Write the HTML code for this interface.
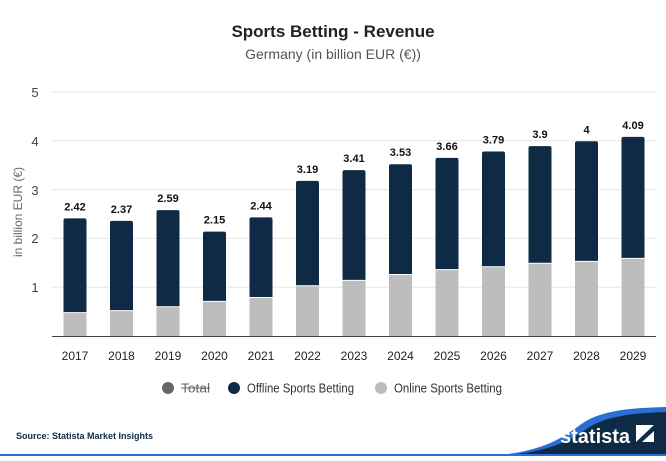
<!DOCTYPE html>
<html><head><meta charset="utf-8"><style>
body{margin:0;width:666px;height:456px;background:#fff;overflow:hidden;font-family:"Liberation Sans",Arial,sans-serif;}
</style></head><body>
<svg width="666" height="456" xmlns="http://www.w3.org/2000/svg" font-family="Liberation Sans, Arial, sans-serif">
<text x="333" y="37" text-anchor="middle" font-size="17" font-weight="bold" fill="#222">Sports Betting - Revenue</text>
<text x="333" y="59" text-anchor="middle" font-size="14" fill="#555">Germany (in billion EUR (€))</text>
<g stroke="#e6e6e6" stroke-width="1">
<line x1="52" x2="656" y1="92" y2="92"/><line x1="52" x2="656" y1="140.8" y2="140.8"/>
<line x1="52" x2="656" y1="189.6" y2="189.6"/><line x1="52" x2="656" y1="238.4" y2="238.4"/>
<line x1="52" x2="656" y1="287.2" y2="287.2"/>
</g>
<g font-size="13" fill="#444" text-anchor="middle">
<text x="35" y="97">5</text><text x="35" y="146">4</text><text x="35" y="195">3</text><text x="35" y="243">2</text><text x="35" y="292">1</text>
</g>
<text transform="translate(22,212) rotate(-90)" text-anchor="middle" font-size="12" fill="#666">in billion EUR (€)</text>
<g id="bars"></g>
<line x1="52" x2="656" y1="336.5" y2="336.5" stroke="#444" stroke-width="1"/>
<g font-size="12" fill="#222" text-anchor="middle" id="xl"></g>
<circle cx="168" cy="388" r="6" fill="#666"/>
<text x="181" y="392.5" font-size="12.5" fill="#666" textLength="29" lengthAdjust="spacingAndGlyphs">Total</text>
<line x1="181" x2="210" y1="388" y2="388" stroke="#666"/>
<circle cx="234" cy="388" r="6" fill="#0f2a45"/>
<text x="247" y="392.5" font-size="12.5" fill="#333" textLength="107" lengthAdjust="spacingAndGlyphs">Offline Sports Betting</text>
<circle cx="381" cy="388" r="6" fill="#bbb"/>
<text x="394" y="392.5" font-size="12.5" fill="#333" textLength="108" lengthAdjust="spacingAndGlyphs">Online Sports Betting</text>
<text x="16" y="439" font-size="9" font-weight="bold" fill="#0f2a45">Source: Statista Market Insights</text>
<path d="M490 456 C540 452 560 440 580 425 C600 410 630 408 666 407 L666 456 Z" fill="#2a6fd6"/>
<path d="M500 456 C548 452 568 442 588 428 C606 416 634 413 666 412 L666 456 Z" fill="#0f2a45"/>
<line x1="0" x2="666" y1="455" y2="455" stroke="#2a6fd6" stroke-width="2"/>
<text x="560" y="443" font-size="20" font-weight="bold" fill="#fff">statista</text>
<rect x="636" y="425" width="18" height="17" fill="#fff"/>
<path d="M636 442 L654 425 L654 431 L642 442 Z" fill="#0f2a45"/>
</svg>
<script>
const tot=[2.42,2.37,2.59,2.15,2.44,3.19,3.41,3.53,3.66,3.79,3.9,4,4.09];
const on=[0.49,0.53,0.61,0.72,0.8,1.04,1.15,1.27,1.37,1.43,1.5,1.54,1.6];
const ns="http://www.w3.org/2000/svg";const b=document.getElementById('bars'),xl=document.getElementById('xl');
const base=336.5,u=48.8;
function el(p,t,a,txt){const e=document.createElementNS(ns,t);for(const k in a)e.setAttribute(k,a[k]);if(txt)e.textContent=txt;p.appendChild(e);}
tot.forEach((v,i)=>{const cx=75+i*46.5,x=cx-11.5;
el(b,'rect',{x:x,y:base-v*u,width:23,height:v*u,rx:2,fill:'#0f2a45'});
el(b,'rect',{x:x,y:base-on[i]*u,width:23,height:on[i]*u,fill:'#bdbdbd'});
el(b,'line',{x1:x,x2:x+23,y1:base-on[i]*u,y2:base-on[i]*u,stroke:'#fff','stroke-width':1});
el(b,'text',{x:cx,y:base-v*u-8,'text-anchor':'middle','font-size':'11','font-weight':'bold',fill:'#111'},String(v));
el(xl,'text',{x:cx,y:360},String(2017+i));});
</script>
</body></html>
